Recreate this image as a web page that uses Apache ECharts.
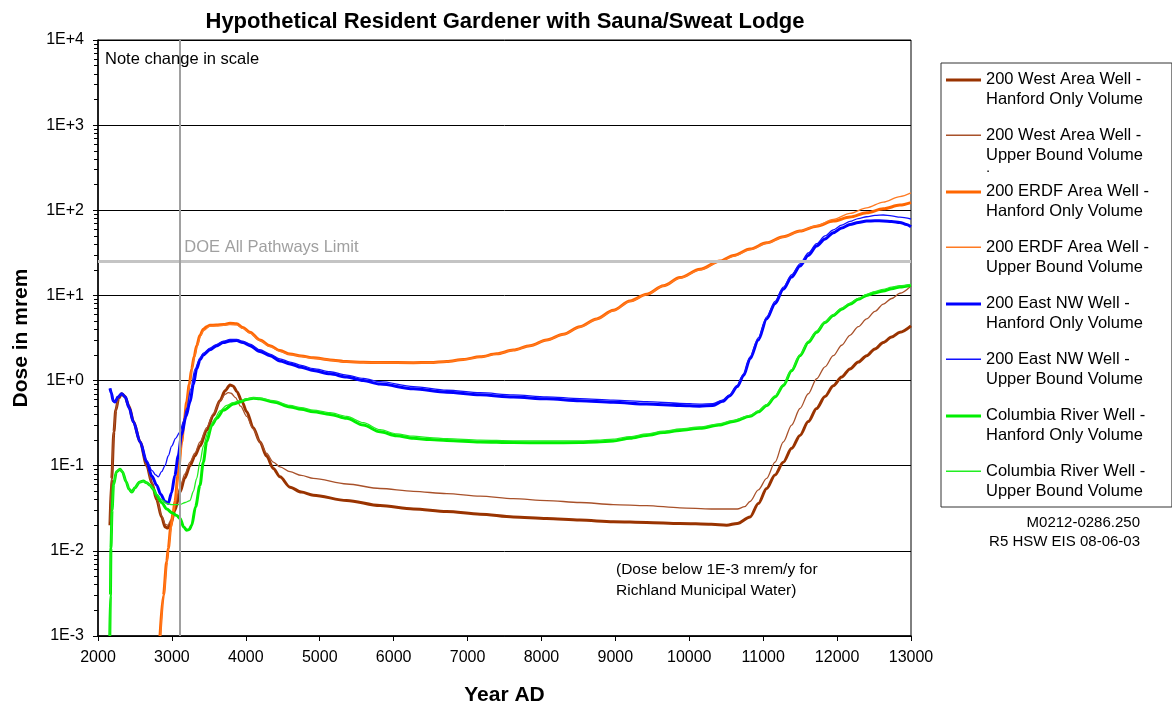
<!DOCTYPE html>
<html><head><meta charset="utf-8">
<script src="https://cdn.jsdelivr.net/npm/echarts@6/dist/echarts.min.js"></script>
<style>html,body{margin:0;padding:0;background:#fff}#c{width:1172px;height:711px}</style>
</head><body><div id="c"></div>
<script>
// ---- data: [Year AD, dose in mrem] ----
const westHanford = [[2162,0.02],[2185,0.07],[2215,0.25],[2240,0.45],[2280,0.62],[2320,0.70],[2360,0.66],[2420,0.5],[2480,0.33],[2570,0.19],[2660,0.1],[2730,0.062],[2794,0.04],[2860,0.025],[2910,0.019],[2945,0.0185],[2985,0.021],[3040,0.03],[3110,0.049],[3175,0.072],[3245,0.1],[3310,0.13],[3380,0.17],[3470,0.26],[3560,0.39],[3650,0.58],[3720,0.76],[3786,0.89],[3830,0.86],[3880,0.74],[3950,0.56],[4012,0.43],[4100,0.28],[4192,0.19],[4280,0.13],[4372,0.093],[4462,0.074],[4598,0.056],[4750,0.049],[4913,0.045],[5365,0.039],[5816,0.034],[6267,0.031],[6718,0.029],[7169,0.027],[7619,0.025],[8070,0.024],[8521,0.023],[8972,0.022],[9423,0.0216],[9874,0.021],[10300,0.0205],[10506,0.020],[10650,0.021],[10822,0.025],[10935,0.036],[11047,0.054],[11160,0.078],[11272,0.11],[11385,0.16],[11498,0.227],[11610,0.33],[11723,0.47],[11836,0.65],[11949,0.87],[12062,1.1],[12174,1.37],[12287,1.65],[12400,1.96],[12512,2.35],[12625,2.8],[12738,3.25],[12850,3.7],[13000,4.4]];
const westUpper = [[2162,0.022],[2185,0.075],[2215,0.26],[2240,0.46],[2280,0.62],[2320,0.69],[2360,0.65],[2420,0.5],[2480,0.33],[2570,0.19],[2660,0.1],[2730,0.063],[2794,0.041],[2860,0.026],[2910,0.0205],[2945,0.02],[2985,0.023],[3040,0.034],[3110,0.056],[3175,0.08],[3245,0.11],[3310,0.14],[3380,0.19],[3470,0.28],[3560,0.41],[3650,0.57],[3720,0.69],[3760,0.72],[3800,0.71],[3860,0.63],[3930,0.5],[4012,0.38],[4100,0.27],[4192,0.19],[4280,0.14],[4372,0.11],[4462,0.097],[4598,0.085],[4750,0.077],[4913,0.071],[5365,0.061],[5816,0.054],[6267,0.05],[6718,0.047],[7169,0.044],[7619,0.041],[8070,0.039],[8521,0.037],[8972,0.035],[9423,0.034],[9874,0.032],[10300,0.031],[10650,0.031],[10750,0.033],[10822,0.038],[10935,0.052],[11047,0.071],[11160,0.11],[11272,0.19],[11385,0.3],[11498,0.47],[11610,0.7],[11723,1.05],[11836,1.45],[11949,1.96],[12062,2.6],[12174,3.4],[12287,4.3],[12400,5.3],[12512,6.5],[12625,7.9],[12738,9.2],[12850,10.6],[13000,12.9]];
const erdfHanford = [[2839,0.001],[2885,0.003],[2930,0.0075],[2951,0.0107],[2985,0.019],[3019,0.029],[3041,0.038],[3085,0.08],[3132,0.19],[3165,0.33],[3200,0.56],[3235,0.9],[3268,1.37],[3300,1.9],[3335,2.57],[3380,3.4],[3425,4.0],[3470,4.3],[3515,4.45],[3600,4.5],[3700,4.55],[3786,4.7],[3876,4.65],[3960,4.2],[4056,3.7],[4190,3.0],[4327,2.57],[4462,2.25],[4598,2.05],[4750,1.95],[4913,1.85],[5140,1.75],[5365,1.67],[5590,1.64],[5816,1.63],[6267,1.62],[6492,1.63],[6718,1.68],[6943,1.77],[7169,1.9],[7394,2.06],[7619,2.28],[7845,2.57],[8070,3.0],[8296,3.5],[8521,4.3],[8747,5.3],[8972,6.7],[9198,8.6],[9423,10.3],[9650,13.0],[9874,16.2],[10145,20.3],[10416,25.4],[10600,29.5],[10822,35],[11047,41.5],[11272,49],[11498,57],[11723,65],[11949,74.6],[12174,83.5],[12400,93.5],[12625,104],[12850,115],[13000,123]];
const erdfUpper = [[2845,0.001],[2890,0.003],[2935,0.0075],[2955,0.0107],[2990,0.019],[3022,0.029],[3045,0.038],[3090,0.08],[3137,0.19],[3170,0.33],[3205,0.56],[3240,0.9],[3272,1.37],[3305,1.9],[3340,2.5],[3385,3.3],[3430,3.9],[3515,4.35],[3600,4.4],[3700,4.45],[3786,4.55],[3876,4.5],[3960,4.1],[4056,3.6],[4190,2.95],[4327,2.5],[4462,2.2],[4598,2.02],[4913,1.83],[5365,1.66],[5816,1.62],[6267,1.61],[6492,1.62],[6718,1.67],[6943,1.76],[7169,1.89],[7394,2.05],[7619,2.27],[7845,2.56],[8070,2.98],[8296,3.48],[8521,4.25],[8747,5.25],[8972,6.6],[9198,8.5],[9423,10.2],[9650,12.9],[9874,16.0],[10145,20.0],[10416,25.0],[10600,29.0],[10822,34.5],[11047,41],[11272,48.5],[11498,57],[11723,66],[11949,78],[12174,92],[12400,107],[12625,125],[12850,145],[13000,160]];
const eastHanford = [[2162,0.81],[2180,0.72],[2205,0.58],[2230,0.56],[2270,0.64],[2320,0.70],[2370,0.64],[2420,0.48],[2480,0.326],[2570,0.19],[2660,0.11],[2730,0.075],[2794,0.059],[2850,0.046],[2907,0.038],[2950,0.036],[2995,0.048],[3040,0.077],[3085,0.13],[3130,0.23],[3190,0.38],[3245,0.56],[3290,0.9],[3335,1.37],[3380,1.75],[3425,2.0],[3515,2.3],[3600,2.55],[3696,2.8],[3786,2.92],[3876,2.95],[3960,2.8],[4056,2.57],[4190,2.2],[4327,1.96],[4462,1.7],[4598,1.57],[4750,1.43],[4913,1.31],[5140,1.2],[5365,1.1],[5590,1.0],[5816,0.91],[6267,0.8],[6718,0.73],[7169,0.68],[7619,0.64],[8070,0.61],[8521,0.58],[8972,0.555],[9423,0.53],[9874,0.51],[10139,0.50],[10319,0.51],[10450,0.57],[10545,0.66],[10650,0.85],[10735,1.15],[10822,1.8],[10935,3.0],[11047,5.3],[11160,8.0],[11272,11.8],[11385,16.5],[11498,22.2],[11610,29.5],[11723,38],[11836,46],[11949,54.6],[12062,62],[12174,68],[12287,72],[12400,74.6],[12512,75.5],[12625,75],[12738,74],[12850,72],[12940,68],[13000,64]];
const eastUpper = [[2162,0.81],[2180,0.72],[2205,0.58],[2230,0.56],[2270,0.64],[2320,0.70],[2370,0.64],[2420,0.48],[2480,0.326],[2570,0.19],[2660,0.115],[2730,0.088],[2780,0.078],[2816,0.074],[2860,0.085],[2907,0.1],[2950,0.13],[2997,0.17],[3050,0.21],[3110,0.25],[3155,0.33],[3200,0.47],[3255,0.8],[3313,1.37],[3380,1.85],[3425,2.1],[3515,2.4],[3600,2.65],[3696,2.9],[3786,3.05],[3876,3.05],[3960,2.9],[4056,2.68],[4190,2.3],[4327,2.05],[4462,1.8],[4598,1.65],[4750,1.51],[4913,1.38],[5140,1.27],[5365,1.16],[5590,1.06],[5816,0.97],[6267,0.85],[6718,0.77],[7169,0.72],[7619,0.68],[8070,0.645],[8521,0.615],[8972,0.59],[9423,0.565],[9874,0.54],[10139,0.53],[10319,0.535],[10450,0.59],[10545,0.68],[10650,0.88],[10735,1.2],[10822,1.9],[10935,3.2],[11047,5.6],[11160,8.5],[11272,12.5],[11385,17.5],[11498,23.5],[11610,31.5],[11723,40.5],[11836,50],[11949,59],[12062,67],[12174,74],[12287,80],[12400,84],[12512,87],[12625,88],[12738,86],[12850,83],[13000,79]];
const columbiaHanford = [[2160,0.001],[2168,0.003],[2175,0.0107],[2190,0.03],[2210,0.06],[2250,0.085],[2298,0.091],[2330,0.085],[2380,0.065],[2420,0.053],[2457,0.049],[2500,0.055],[2560,0.064],[2613,0.066],[2660,0.063],[2704,0.059],[2750,0.053],[2794,0.045],[2860,0.037],[2930,0.031],[3000,0.028],[3065,0.026],[3110,0.024],[3160,0.019],[3200,0.0175],[3235,0.0178],[3268,0.02],[3320,0.033],[3380,0.059],[3425,0.11],[3470,0.19],[3540,0.3],[3605,0.36],[3700,0.45],[3830,0.53],[3920,0.56],[4010,0.6],[4101,0.62],[4190,0.61],[4372,0.56],[4598,0.49],[4750,0.46],[4913,0.43],[5140,0.4],[5365,0.36],[5590,0.3],[5816,0.25],[6040,0.225],[6267,0.21],[6492,0.203],[6718,0.198],[7169,0.19],[7619,0.187],[8070,0.186],[8521,0.187],[8750,0.19],[8972,0.195],[9198,0.21],[9423,0.227],[9650,0.245],[9874,0.26],[10145,0.275],[10400,0.3],[10595,0.33],[10822,0.38],[10935,0.43],[11047,0.51],[11160,0.64],[11272,0.87],[11385,1.3],[11498,1.96],[11610,2.8],[11723,3.7],[11836,4.8],[11949,5.8],[12062,6.9],[12174,7.9],[12287,9.0],[12400,10],[12512,10.7],[12625,11.3],[12738,12],[12850,12.6],[13000,13.2]];
const columbiaUpper = [[2160,0.001],[2168,0.003],[2175,0.0107],[2190,0.03],[2210,0.06],[2250,0.085],[2298,0.091],[2330,0.085],[2380,0.065],[2420,0.053],[2457,0.049],[2500,0.055],[2560,0.064],[2613,0.066],[2660,0.063],[2704,0.059],[2750,0.053],[2794,0.046],[2860,0.04],[2930,0.036],[3000,0.035],[3110,0.035],[3180,0.037],[3245,0.039],[3290,0.05],[3335,0.071],[3380,0.11],[3425,0.17],[3490,0.25],[3560,0.33],[3650,0.44],[3740,0.51],[3830,0.55],[3920,0.58],[4010,0.61],[4101,0.63],[4190,0.62],[4372,0.58],[4598,0.51],[4750,0.48],[4913,0.45],[5140,0.42],[5365,0.38],[5590,0.32],[5816,0.265],[6040,0.237],[6267,0.222],[6492,0.214],[6718,0.208],[7169,0.2],[7619,0.196],[8070,0.195],[8521,0.196],[8750,0.199],[8972,0.205],[9198,0.22],[9423,0.236],[9650,0.254],[9874,0.27],[10145,0.285],[10400,0.31],[10595,0.34],[10822,0.39],[10935,0.44],[11047,0.52],[11160,0.66],[11272,0.9],[11385,1.34],[11498,2.0],[11610,2.9],[11723,3.8],[11836,4.9],[11949,5.95],[12062,7.1],[12174,8.1],[12287,9.2],[12400,10.3],[12512,11.1],[12625,11.8],[12738,12.5],[12850,13],[13000,13.5]];

const seriesNames = [
  '200 West Area Well -\nHanford Only Volume',
  '200 West Area Well -\nUpper Bound Volume',
  '200 ERDF Area Well -\nHanford Only Volume',
  '200 ERDF Area Well -\nUpper Bound Volume',
  '200 East NW Well -\nHanford Only Volume',
  '200 East NW Well -\nUpper Bound Volume',
  'Columbia River Well -\nHanford Only Volume',
  'Columbia River Well -\nUpper Bound Volume'
];
const seriesData = [westHanford, westUpper, erdfHanford, erdfUpper, eastHanford, eastUpper, columbiaHanford, columbiaUpper];
const xMin = 2000, xMax = 13000, xStep = 1000;
const yMin = 1e-3, yMax = 1e4;
const doeLimit = 25;          // DOE All Pathways Limit, mrem
const scaleChangeYear = 3100; // "Note change in scale" marker

// minor log ticks 2..9 within each decade
const minorTickValues = [];
for (let e = -3; e < 4; e++) for (let m = 2; m <= 9; m++) minorTickValues.push(m * Math.pow(10, e));

// ---- styles ----
const colors = ['#993300', '#A8512A', '#FF6600', '#FF7A22', '#0000FF', '#1010FF', '#00EE00', '#22EE22'];
const widths = [3, 1.3, 3, 1.3, 3, 1.3, 3, 1.3];
const FONT = '"Liberation Sans", Arial, Helvetica, sans-serif';

const iconPath = w => 'path://M0,0L35,0L35,' + w + 'L0,' + w + 'ZM0,21L35,21Z';

const chart = echarts.init(document.getElementById('c'), null, {renderer: 'canvas'});

const series = seriesData.map((d, i) => ({
  name: seriesNames[i],
  type: 'line',
  data: d,
  symbol: 'none',
  smooth: 0.3,
  smoothMonotone: 'x',
  clip: true,
  lineStyle: {color: colors[i], width: widths[i]},
  itemStyle: {color: colors[i]},
  emphasis: {disabled: true},
  z: 3
}));

series.push({
  name: 'refs',
  type: 'line',
  data: [],
  silent: true,
  markLine: {
    silent: true,
    symbol: 'none',
    label: {show: false},
    animation: false,
    data: [
      {yAxis: doeLimit, lineStyle: {color: '#C4C4C4', width: 3, type: 'solid'}},
      {xAxis: scaleChangeYear, lineStyle: {color: '#A0A0A0', width: 2, type: 'solid'}}
    ]
  },
  z: 2
});

const expLabel = v => {
  const e = Math.round(Math.log10(v));
  return '1E' + (e >= 0 ? '+' : '-') + Math.abs(e);
};

chart.setOption({
  animation: false,
  backgroundColor: '#fff',
  textStyle: {fontFamily: FONT},
  title: {
    text: 'Hypothetical Resident Gardener with Sauna/Sweat Lodge',
    left: 500, top: 6, textAlign: 'center',
    textStyle: {fontFamily: FONT, fontSize: 22, fontWeight: 'bold', color: '#000'}
  },
  grid: {left: 98, right: 261, top: 40, bottom: 73, show: true, borderColor: '#000', borderWidth: 1, backgroundColor: '#fff'},
  legend: {
    orient: 'vertical',
    left: 941, top: 63,
    padding: [6, 23, 6, 5],
    itemGap: 16,
    itemWidth: 35, itemHeight: 21,
    borderColor: '#333', borderWidth: 1,
    selectedMode: false,
    data: seriesNames.map((n, i) => ({name: n, icon: iconPath(widths[i] >= 2 ? 3 : 1.4), itemStyle: {color: colors[i], borderWidth: 0}})),
    textStyle: {fontFamily: FONT, fontSize: 16.5, lineHeight: 20, color: '#000'}
  },
  xAxis: {
    type: 'value', min: xMin, max: xMax, interval: xStep,
    name: 'Year AD', nameLocation: 'middle', nameGap: 49,
    nameTextStyle: {fontFamily: FONT, fontSize: 21, fontWeight: 'bold', color: '#000'},
    axisLine: {lineStyle: {color: '#000', width: 1.5}},
    axisTick: {show: true, length: 5, lineStyle: {color: '#000'}},
    axisLabel: {fontFamily: FONT, fontSize: 16, color: '#000', margin: 14, formatter: v => String(v)},
    splitLine: {show: false}
  },
  yAxis: [{
    type: 'log', logBase: 10, min: yMin, max: yMax,
    name: 'Dose in mrem', nameLocation: 'middle', nameGap: 66,
    nameTextStyle: {fontFamily: FONT, fontSize: 21, fontWeight: 'bold', color: '#000'},
    axisLine: {show: true, lineStyle: {color: '#000', width: 1.5}},
    axisTick: {show: true, length: 5, lineStyle: {color: '#000'}},
    minorTick: {show: false},
    axisLabel: {fontFamily: FONT, fontSize: 16, color: '#000', margin: 14, formatter: expLabel},
    splitLine: {show: true, lineStyle: {color: '#000', width: 1}}
  }, {
    type: 'log', logBase: 10, min: yMin, max: yMax, position: 'left',
    axisLine: {show: false},
    axisTick: {show: true, length: 4, customValues: minorTickValues, lineStyle: {color: '#000'}},
    axisLabel: {show: false},
    splitLine: {show: false}
  }],
  series: series
});

// ---- annotations ----
const doePx = chart.convertToPixel({gridIndex: 0}, [scaleChangeYear, doeLimit]);
chart.setOption({
  graphic: [
    {type: 'text', left: 105, top: 51, z: 10, style: {text: 'Note change in scale', font: '16.5px ' + FONT, fill: '#000'}},
    {type: 'text', x: doePx[0] + 5, y: doePx[1] - 6, z: 10, style: {text: 'DOE All Pathways Limit', font: '16.5px ' + FONT, fill: '#A0A0A0', verticalAlign: 'bottom'}},
    {type: 'text', left: 616, top: 559, z: 10, style: {text: '(Dose below 1E-3 mrem/y for\nRichland Municipal Water)', font: '15.5px ' + FONT, fill: '#000', lineHeight: 21}},
    {type: 'text', right: 32, top: 515, z: 10, style: {text: 'M0212-0286.250', font: '15px ' + FONT, fill: '#000'}},
    {type: 'text', right: 32, top: 534, z: 10, style: {text: 'R5 HSW EIS 08-06-03', font: '15px ' + FONT, fill: '#000'}},
    {type: 'text', left: 986, top: 160, z: 10, style: {text: '.', font: '15px ' + FONT, fill: '#000'}}
  ]
});
</script>
</body></html>
